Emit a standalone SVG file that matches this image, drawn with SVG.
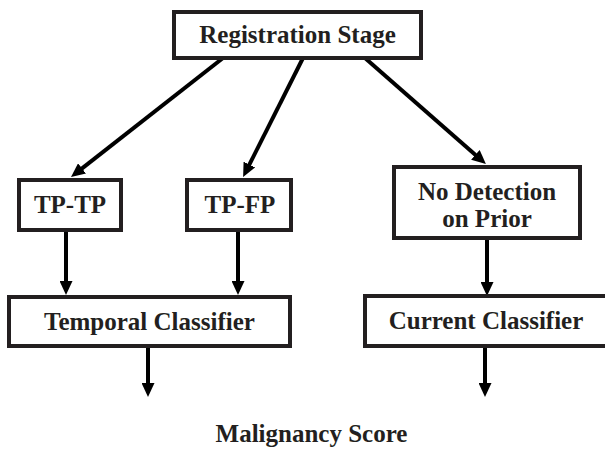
<svg xmlns="http://www.w3.org/2000/svg" width="605" height="452" viewBox="0 0 605 452">
<style>
.box{fill:#fff;stroke:#231f20;stroke-width:4}
.t{font-family:'Liberation Serif','DejaVu Serif',serif;font-weight:700;font-size:25px;fill:#231f20;text-anchor:middle}
.c{stroke:#000;stroke-width:4;fill:none;marker-end:url(#ah)}
</style>
<defs>
<marker id="ah" markerUnits="userSpaceOnUse" markerWidth="14" markerHeight="13" refX="4" refY="6.5" orient="auto">
<path d="M0,0 L14,6.5 L0,13 z" fill="#000"/>
</marker>
</defs>
<g id="connectors">
<line class="c" x1="223" y1="58" x2="78.9" y2="170.9"/>
<line class="c" x1="303" y1="58" x2="247.6" y2="168.1"/>
<line class="c" x1="365" y1="58" x2="478.4" y2="157.5"/>
<line class="c" x1="66" y1="232" x2="66" y2="285"/>
<line class="c" x1="238" y1="232" x2="238" y2="285"/>
<line class="c" x1="487" y1="240" x2="487" y2="286"/>
<line class="c" x1="148" y1="348" x2="148" y2="387"/>
<line class="c" x1="485" y1="348" x2="485" y2="387"/>
</g>
<g id="registration">
<rect class="box" x="174" y="12" width="247" height="46"/>
<text class="t" x="297.5" y="43" font-family="Liberation Serif, serif">Registration Stage</text>
</g>
<g id="tptp">
<rect class="box" x="19" y="180" width="102" height="50"/>
<text class="t" x="70" y="213">TP-TP</text>
</g>
<g id="tpfp">
<rect class="box" x="187" y="180" width="104" height="50"/>
<text class="t" x="240" y="213">TP-FP</text>
</g>
<g id="nodetection">
<rect class="box" x="394" y="167" width="186" height="71"/>
<text class="t" x="487" y="200">No Detection</text>
<text class="t" x="487" y="227">on Prior</text>
</g>
<g id="temporal">
<rect class="box" x="9" y="297" width="281" height="49"/>
<text class="t" x="149.5" y="330">Temporal Classifier</text>
</g>
<g id="current">
<rect class="box" x="365" y="296" width="250" height="50"/>
<text class="t" x="486" y="329">Current Classifier</text>
</g>
<g id="malignancy">
<text class="t" x="311.5" y="442">Malignancy Score</text>
</g>
</svg>
